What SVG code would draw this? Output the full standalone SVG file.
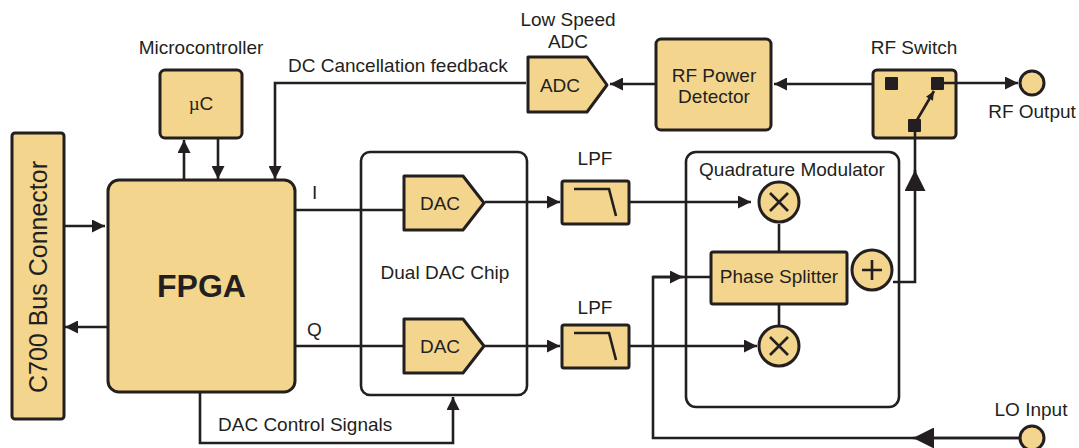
<svg xmlns="http://www.w3.org/2000/svg" width="1079" height="448" viewBox="0 0 1079 448">
<defs>
<marker id="a" viewBox="0 0 13 13" refX="13" refY="6.5" markerWidth="13" markerHeight="13" markerUnits="userSpaceOnUse" orient="auto"><path d="M0 0L13 6.5L0 13Z" fill="#231f20"/></marker>
<marker id="b" viewBox="0 0 21 21" refX="21" refY="10.5" markerWidth="21" markerHeight="21" markerUnits="userSpaceOnUse" orient="auto"><path d="M0 0L21 10.5L0 21Z" fill="#231f20"/></marker>
<marker id="s" viewBox="0 0 9 8" refX="9" refY="4" markerWidth="9" markerHeight="8" markerUnits="userSpaceOnUse" orient="auto"><path d="M0 0L9 4L0 8Z" fill="#231f20"/></marker>
</defs>
<style>
text{font-family:"Liberation Sans",Arial,sans-serif;font-size:19px;fill:#231f20}
.n{fill:#f4d58d;stroke:#231f20;stroke-width:3;stroke-linejoin:round}
.w{fill:#fff;stroke:#231f20;stroke-width:2.6}
.c{fill:none;stroke:#231f20;stroke-width:2.6}
.i{fill:none;stroke:#231f20;stroke-width:2.6}
.m{text-anchor:middle}
.k{fill:#231f20}
</style>
<g id="dac-chip"><rect class="w" x="361" y="152" width="166" height="243" rx="9"/><text class="m" x="445" y="279">Dual DAC Chip</text></g>
<g id="quadrature-modulator"><rect class="w" x="686" y="152" width="213" height="255" rx="10"/><text class="m" x="792" y="176">Quadrature Modulator</text></g>
<g id="connectors">
<path class="c" d="M63 226H105" marker-end="url(#a)"/>
<path class="c" d="M107 327H65" marker-end="url(#a)"/>
<path class="c" d="M184 180V140" marker-end="url(#a)"/>
<path class="c" d="M218 139V179" marker-end="url(#a)"/>
<path class="c" d="M526 83H275V179" marker-end="url(#a)"/>
<path class="c" d="M295 210H403"/>
<path class="c" d="M295 346H403"/>
<path class="c" d="M485 202H560" marker-end="url(#a)"/>
<path class="c" d="M485 346H560" marker-end="url(#a)"/>
<path class="c" d="M630 202H751" marker-end="url(#a)"/>
<path class="c" d="M630 346H757" marker-end="url(#a)"/>
<path class="c" d="M779 224V252"/>
<path class="c" d="M779 304V326"/>
<path class="c" d="M711 277H653V438H1019"/>
<path class="c" d="M653 277H683" marker-end="url(#a)"/>
<path class="c" d="M1019 438H913" marker-end="url(#b)"/>
<path class="c" d="M893 282H915V124"/>
<path class="c" d="M915 190V170" marker-end="url(#b)"/>
<path class="c" d="M200 392V443H453V397" marker-end="url(#a)"/>
<path class="c" d="M873 84H774" marker-end="url(#a)"/>
<path class="c" d="M655 84H610" marker-end="url(#a)"/>
<path class="c" d="M938 83H1018" marker-end="url(#a)"/>
</g>
<g id="c700"><rect class="n" x="12" y="133" width="52" height="286" rx="3"/><text class="m" transform="translate(47 277) rotate(-90)" style="font-size:25px">C700 Bus Connector</text></g>
<g id="fpga"><rect class="n" x="108" y="180" width="187" height="212" rx="11"/><text class="m" x="201.500" y="297" style="font-size:32px;font-weight:bold">FPGA</text></g>
<g id="uc"><rect class="n" x="160" y="70" width="82" height="68" rx="5"/><text class="m" x="201" y="110"><tspan style="font-family:'Liberation Serif',serif">µ</tspan>C</text></g>
<text class="m" x="201" y="54">Microcontroller</text>
<text x="288" y="72">DC Cancellation feedback</text>
<g id="adc"><path class="n" d="M528 57H587L607 85L587 112H528Z"/><text class="m" x="560" y="92">ADC</text><text class="m" x="568" y="26">Low Speed</text><text class="m" x="568" y="48">ADC</text></g>
<g id="rf-detector"><rect class="n" x="656" y="39" width="115" height="91" rx="5"/><text class="m" x="714" y="82">RF Power</text><text class="m" x="714" y="103">Detector</text></g>
<g id="rf-switch"><rect class="n" x="873" y="70" width="83" height="68" rx="4"/>
<path class="c" d="M937 83H956M915 132V138"/>
<rect class="k" x="885" y="77" width="13" height="13" rx="1"/><rect class="k" x="931" y="77" width="13" height="13" rx="1"/><rect class="k" x="908" y="119" width="13" height="13" rx="1"/>
<path class="c" d="M917 120L934 91" marker-end="url(#s)"/><text class="m" x="914" y="54">RF Switch</text></g>
<g id="rf-output"><circle class="n" cx="1032" cy="83" r="12"/><text class="m" x="1032" y="118">RF Output</text></g>
<g id="lo-input"><circle class="n" cx="1032" cy="438" r="12"/><text class="m" x="1031" y="416">LO Input</text></g>
<g id="dac-i"><path class="n" d="M404 176H463L484 203L463 230H404Z"/><text class="m" x="440" y="210">DAC</text></g>
<g id="dac-q"><path class="n" d="M404 319H463L484 346L463 373H404Z"/><text class="m" x="440" y="353">DAC</text></g>
<g id="lpf-i"><rect class="n" x="562" y="181" width="67" height="43" rx="2"/><path class="i" d="M574 189H609L616 216"/><text class="m" x="595" y="165">LPF</text></g>
<g id="lpf-q"><rect class="n" x="562" y="325" width="67" height="43" rx="2"/><path class="i" d="M574 333H609L616 360"/><text class="m" x="595" y="314">LPF</text></g>
<g id="mixer-i"><circle class="n" cx="779" cy="202" r="20"/><path class="i" d="M770 193L788 211M788 193L770 211"/></g>
<g id="mixer-q"><circle class="n" cx="779" cy="346" r="20"/><path class="i" d="M770 337L788 355M788 337L770 355"/></g>
<g id="phase-splitter"><rect class="n" x="711" y="252" width="136" height="52" rx="2"/><text class="m" x="779" y="283">Phase Splitter</text></g>
<g id="summer"><circle class="n" cx="872" cy="270" r="20"/><path class="i" d="M862 270H882M872 260V280"/></g>
<text x="312" y="199">I</text>
<text x="307" y="336">Q</text>
<text x="218" y="431">DAC Control Signals</text>
</svg>
